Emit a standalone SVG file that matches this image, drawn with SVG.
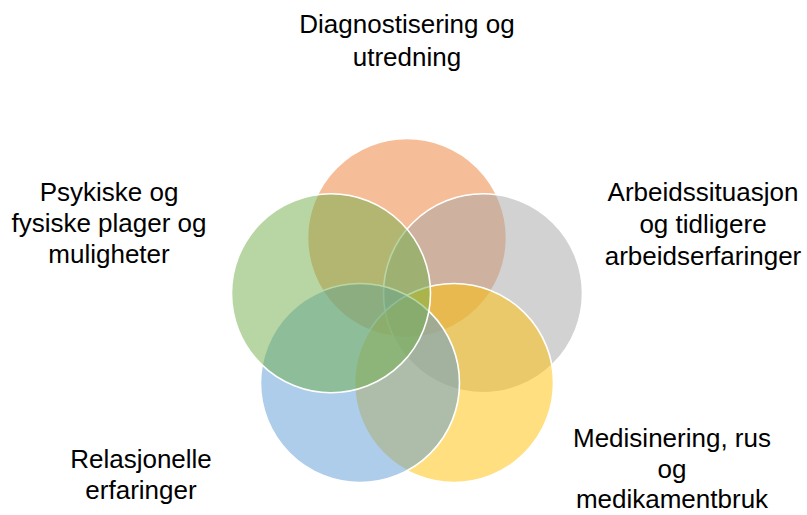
<svg xmlns="http://www.w3.org/2000/svg" width="807" height="515" viewBox="0 0 807 515">
<style>
.c{fill-opacity:0.5;stroke:#ffffff;stroke-width:1.6}
.t{font-family:"Liberation Sans",Arial,sans-serif;font-size:26px;fill:#000000;text-anchor:middle}
</style>
<rect width="807" height="515" fill="#ffffff"/>
<g id="node-orange"><circle class="c" cx="407" cy="238" r="99.5" fill="#ED7D31"/></g>
<g id="node-gray"><circle class="c" cx="483" cy="293.3" r="99.5" fill="#A5A5A5"/></g>
<g id="node-yellow"><circle class="c" cx="454" cy="383" r="99.5" fill="#FFC000"/></g>
<g id="node-blue"><circle class="c" cx="360" cy="383" r="99.5" fill="#5B9BD5"/></g>
<g id="node-green"><circle class="c" cx="331" cy="293.3" r="99.5" fill="#70AD47"/></g>
<g id="labels">
<text class="t" x="407" y="33">Diagnostisering og</text>
<text class="t" x="407" y="66">utredning</text>
<text class="t" x="703" y="201">Arbeidssituasjon</text>
<text class="t" x="703" y="233">og tidligere</text>
<text class="t" x="703" y="265">arbeidserfaringer</text>
<text class="t" x="109" y="201">Psykiske og</text>
<text class="t" x="109" y="232">fysiske plager og</text>
<text class="t" x="109" y="263">muligheter</text>
<text class="t" x="672" y="447">Medisinering, rus</text>
<text class="t" x="672" y="478">og</text>
<text class="t" x="672" y="508">medikamentbruk</text>
<text class="t" x="141" y="468">Relasjonelle</text>
<text class="t" x="141" y="499">erfaringer</text>
</g>
<g id="connectors"></g>
</svg>
